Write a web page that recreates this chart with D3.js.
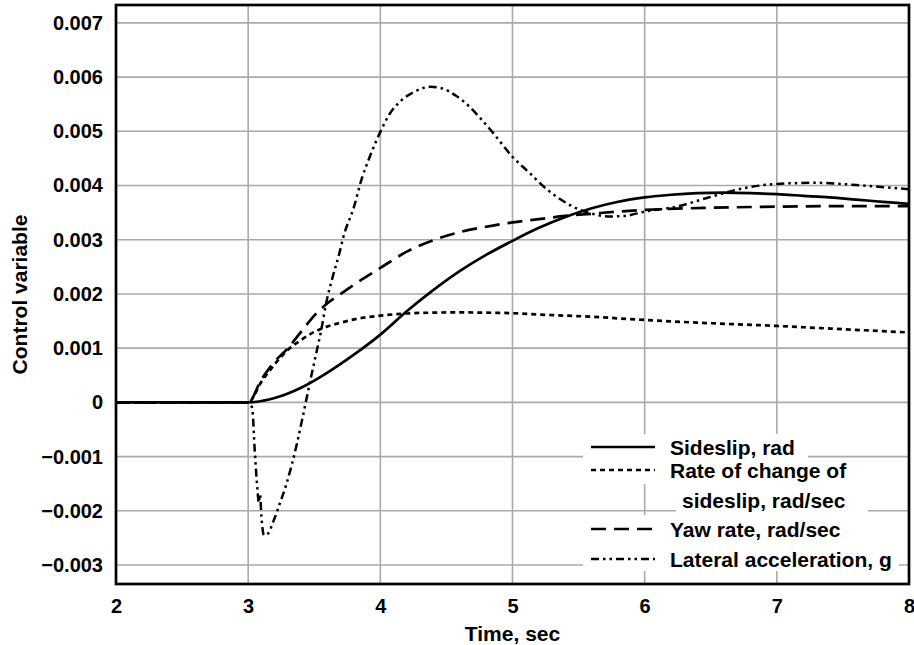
<!DOCTYPE html>
<html>
<head>
<meta charset="utf-8">
<script src="https://cdn.jsdelivr.net/npm/d3@7"></script>
<style>
  html, body { margin: 0; padding: 0; background: #fff; }
  svg { display: block; }
  text { font-family: "Liberation Sans", Arial, Helvetica, sans-serif; font-weight: bold; fill: #000; }
</style>
</head>
<body>
<svg id="chart" width="914" height="645"></svg>
<script>
// ---- data (values in units of 0.001) ----
const xTicks = [2, 3, 4, 5, 6, 7, 8];
const xTickLabels = ["2", "3", "4", "5", "6", "7", "8"];
const yTicks = [-3, -2, -1, 0, 1, 2, 3, 4, 5, 6, 7];
const yTickLabels = ["\u22120.003", "\u22120.002", "\u22120.001", "0", "0.001", "0.002", "0.003", "0.004", "0.005", "0.006", "0.007"];

const sideslip = [
  [2, 0], [3.0, 0], [3.2, 0.08], [3.4, 0.27], [3.6, 0.55], [3.8, 0.88], [4.0, 1.25],
  [4.2, 1.68], [4.4, 2.07], [4.6, 2.42], [4.8, 2.72], [5.0, 2.98], [5.2, 3.22],
  [5.4, 3.42], [5.6, 3.58], [5.8, 3.70], [6.0, 3.78], [6.2, 3.83], [6.4, 3.86],
  [6.6, 3.87], [6.8, 3.86], [7.0, 3.84], [7.2, 3.81], [7.4, 3.78], [7.6, 3.74],
  [7.8, 3.70], [8.0, 3.66]
];
const sideslipRate = [
  [2, 0], [3.0, 0], [3.1, 0.38], [3.2, 0.70], [3.3, 0.97], [3.4, 1.15], [3.5, 1.30],
  [3.6, 1.40], [3.7, 1.47], [3.8, 1.53], [4.0, 1.60], [4.2, 1.64], [4.4, 1.655],
  [4.6, 1.66], [4.8, 1.655], [5.0, 1.645], [5.2, 1.62], [5.4, 1.60], [5.6, 1.58],
  [5.8, 1.55], [6.0, 1.52], [6.5, 1.46], [7.0, 1.41], [7.5, 1.35], [8.0, 1.29]
];
const yawRate = [
  [2, 0], [3.0, 0], [3.1, 0.42], [3.2, 0.75], [3.3, 1.0], [3.4, 1.3], [3.5, 1.6],
  [3.6, 1.83], [3.7, 2.0], [3.8, 2.17], [4.0, 2.48], [4.2, 2.78], [4.4, 2.99],
  [4.6, 3.14], [4.8, 3.24], [5.0, 3.32], [5.2, 3.38], [5.4, 3.44], [5.6, 3.48],
  [5.8, 3.52], [6.0, 3.55], [6.5, 3.59], [7.0, 3.61], [7.5, 3.62], [8.0, 3.62]
];
const lateralAccel = [
  [2, 0], [3.0, 0], [3.03, -0.1], [3.05, -0.9], [3.07, -1.6], [3.08, -1.85], [3.09, -1.7],
  [3.10, -2.1], [3.12, -2.45], [3.15, -2.42], [3.19, -2.2], [3.24, -1.86], [3.29, -1.5],
  [3.33, -1.15], [3.37, -0.75], [3.41, -0.3], [3.44, 0.05], [3.47, 0.4], [3.51, 0.85],
  [3.55, 1.3], [3.59, 1.83], [3.64, 2.32], [3.69, 2.75], [3.72, 3.05], [3.80, 3.6],
  [3.86, 4.13], [3.92, 4.53], [4.0, 4.99], [4.07, 5.32], [4.15, 5.55], [4.25, 5.72],
  [4.38, 5.82], [4.47, 5.79], [4.57, 5.66], [4.68, 5.44], [4.75, 5.26], [4.85, 4.98],
  [5.0, 4.53], [5.13, 4.23], [5.26, 3.93], [5.38, 3.72], [5.5, 3.56], [5.6, 3.48],
  [5.74, 3.43], [5.85, 3.44], [6.0, 3.52], [6.24, 3.61], [6.47, 3.77], [6.75, 3.95],
  [7.0, 4.03], [7.3, 4.05], [7.6, 4.01], [8.0, 3.93]
];

const legendLabels = [
  ["Sideslip, rad"],
  ["Rate of change of", "sideslip, rad/sec"],
  ["Yaw rate, rad/sec"],
  ["Lateral acceleration, g"]
];

// ---- layout ----
const svg = d3.select("#chart");
const L = 116, R = 909, T = 5, B = 584;
const x = d3.scaleLinear().domain([2, 8]).range([L, R]);
const y = d3.scaleLinear().domain([-3.35, 7.33]).range([B, T]);

const styles = [
  { dash: null, width: 2.7 },
  { dash: "5,4", width: 2.7 },
  { dash: "15,8", width: 2.7 },
  { dash: "8,4,2.5,4,2.5,4", width: 2.5 }
];
const series = [sideslip, sideslipRate, yawRate, lateralAccel];

// grid
const grid = svg.append("g").attr("stroke", "#aaaaaa").attr("stroke-width", 1.6);
grid.selectAll("line.v").data(xTicks.slice(1, -1)).join("line")
  .attr("x1", d => x(d)).attr("x2", d => x(d)).attr("y1", T).attr("y2", B);
grid.selectAll("line.h").data(yTicks).join("line")
  .attr("x1", L).attr("x2", R).attr("y1", d => y(d)).attr("y2", d => y(d));

// clip
svg.append("clipPath").attr("id", "clip").append("rect")
  .attr("x", L).attr("y", T).attr("width", R - L).attr("height", B - T);

const line = d3.line().x(d => x(d[0])).y(d => y(d[1])).curve(d3.curveMonotoneX);
const lines = svg.append("g").attr("clip-path", "url(#clip)");
series.forEach((s, i) => {
  lines.append("path").datum(s)
    .attr("d", line)
    .attr("fill", "none")
    .attr("stroke", "#000")
    .attr("stroke-width", styles[i].width)
    .attr("stroke-dasharray", styles[i].dash)
    .attr("stroke-linejoin", "round");
});

// legend
const legendRows = [
  { y: 447, box: [583, 434, 808, 458] },
  { y: 470, box: [583, 458, 860, 484], y2: 500, box2: [676, 484, 868, 515] },
  { y: 529, box: [583, 515, 852, 545] },
  { y: 559, box: [583, 545, 899, 571] }
];
const lg = svg.append("g");
legendRows.forEach((r) => {
  lg.append("rect").attr("x", r.box[0]).attr("y", r.box[1])
    .attr("width", r.box[2] - r.box[0]).attr("height", r.box[3] - r.box[1]).attr("fill", "#fff");
  if (r.box2) {
    lg.append("rect").attr("x", r.box2[0]).attr("y", r.box2[1])
      .attr("width", r.box2[2] - r.box2[0]).attr("height", r.box2[3] - r.box2[1]).attr("fill", "#fff");
  }
});
legendRows.forEach((r, i) => {
  lg.append("line").attr("x1", 591).attr("x2", 655).attr("y1", r.y).attr("y2", r.y)
    .attr("stroke", "#000").attr("stroke-width", styles[i].width)
    .attr("stroke-dasharray", styles[i].dash);
  lg.append("text").attr("x", 670).attr("y", r.y).attr("dy", "0.36em")
    .attr("font-size", 21).text(legendLabels[i][0]);
  if (legendLabels[i][1]) {
    lg.append("text").attr("x", 682).attr("y", r.y2).attr("dy", "0.36em")
      .attr("font-size", 21).text(legendLabels[i][1]);
  }
});

// frame
svg.append("rect").attr("x", L).attr("y", T).attr("width", R - L).attr("height", B - T)
  .attr("fill", "none").attr("stroke", "#000").attr("stroke-width", 2.7);

// axes labels
const xAxis = d3.axisBottom(x).tickValues(xTicks).tickFormat((d, i) => xTickLabels[i]).tickSize(0).tickPadding(15);
const gx = svg.append("g").attr("transform", `translate(0,${B})`).call(xAxis);
gx.select(".domain").remove();
gx.selectAll("text").attr("font-size", 20).attr("font-family", null);

const yAxis = d3.axisLeft(y).tickValues(yTicks).tickFormat((d, i) => yTickLabels[i]).tickSize(0).tickPadding(13);
const gy = svg.append("g").attr("transform", `translate(${L},0)`).call(yAxis);
gy.select(".domain").remove();
gy.selectAll("text").attr("font-size", 20).attr("font-family", null);

svg.append("text").attr("x", x(5)).attr("y", 641).attr("text-anchor", "middle")
  .attr("font-size", 21).text("Time, sec");
svg.append("text").attr("transform", `translate(27,${(T + B) / 2}) rotate(-90)`)
  .attr("text-anchor", "middle").attr("font-size", 21).text("Control variable");
</script>
</body>
</html>
